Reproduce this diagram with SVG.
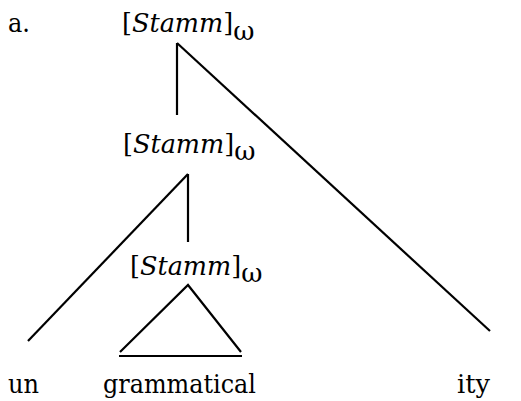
<svg xmlns="http://www.w3.org/2000/svg" width="521" height="401" viewBox="0 0 521 401">
<style>
text{font-family:'DejaVu Serif',serif;font-size:26px;fill:#000}
.n{font-size:25.5px}
.i{font-style:italic}
.w{font-size:26px}
.e{stroke:#000;stroke-width:2.2;fill:none;stroke-linecap:butt}
</style>
<rect width="521" height="401" fill="#fff"/>
<g id="label-a"><text x="8" y="32" textLength="22" lengthAdjust="spacingAndGlyphs">a.</text></g>
<g id="node-top"><text class="n" x="122" y="32">[<tspan class="i">Stamm</tspan>]<tspan class="w" dy="8">ω</tspan></text></g>
<g id="node-mid"><text class="n" x="123" y="153">[<tspan class="i">Stamm</tspan>]<tspan class="w" dy="7">ω</tspan></text></g>
<g id="node-low"><text class="n" x="130" y="275">[<tspan class="i">Stamm</tspan>]<tspan class="w" dy="7">ω</tspan></text></g>
<g id="leaf-un"><text x="8" y="393" textLength="31" lengthAdjust="spacingAndGlyphs">un</text></g>
<g id="leaf-grammatical"><text x="103" y="393" textLength="153" lengthAdjust="spacingAndGlyphs">grammatical</text></g>
<g id="leaf-ity"><text x="457" y="393" textLength="33" lengthAdjust="spacingAndGlyphs">ity</text></g>
<g id="connectors">
<line class="e" x1="177" y1="43" x2="177" y2="115"/>
<line class="e" x1="177" y1="43" x2="490" y2="331"/>
<line class="e" x1="188" y1="174" x2="188" y2="242"/>
<line class="e" x1="188" y1="174" x2="28" y2="341"/>
<polyline class="e" points="120,352 188,285 241,352"/>
<line class="e" x1="119" y1="356" x2="242" y2="356"/>
</g>
</svg>
